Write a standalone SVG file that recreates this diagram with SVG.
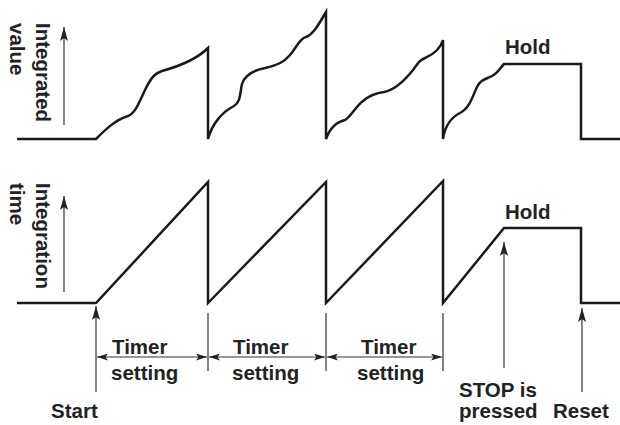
<svg xmlns="http://www.w3.org/2000/svg" width="620" height="425" viewBox="0 0 620 425">
<style>
.wave{fill:none;stroke:#1a1a1a;stroke-width:2.5;stroke-linejoin:miter;stroke-linecap:butt}
.thin{fill:none;stroke:#333;stroke-width:1.2}
.lbl{font-family:"Liberation Sans",Arial,sans-serif;font-weight:bold;font-size:20.5px;fill:#222}
</style>
<defs>
<marker id="ah" viewBox="0 0 14 8" refX="14" refY="4" markerWidth="14" markerHeight="8" markerUnits="userSpaceOnUse" orient="auto-start-reverse">
<path d="M0,0 L14,4 L0,8 L3,4 z" fill="#222"/>
</marker>
<marker id="ahs" viewBox="0 0 11 7" refX="11" refY="3.5" markerWidth="11" markerHeight="7" markerUnits="userSpaceOnUse" orient="auto-start-reverse">
<path d="M0,0 L11,3.5 L0,7 L2.5,3.5 z" fill="#222"/>
</marker>
</defs>
<rect width="620" height="425" fill="#fff"/>
<g id="connectors">
<path id="wave-value" class="wave" d="M17,139 L96,139 C105,130 115,120 128,116 C136,113 140,100 146,88 C152,76 156,73 162,71 C180,66 196,60 208,48 L208,139 C212,124 222,112 234,106 C241,102 240,92 242,84 C245,74 255,70 265,68 C278,65 284,62 290,55 C296,48 300,38 306,37 C314,34 320,22 326,12 L326,139 C330,128 336,122 345,120 C350,118 356,106 363,101 C370,95 376,93 384,92 C395,90 405,80 413,70 C418,63 420,60 425,58 C432,55 440,50 443,40 L443,139 C445,126 450,118 460,113 C470,108 473,95 477,87 C480,80 486,79 492,76 C498,73 500,68 504,64 L581,64 L581,139 L620,139"/>
<path id="wave-time" class="wave" d="M17,303 L96,303 L208,182 L208,303 L326,182 L326,303 L443,181 L443,303 L504,228 L581,228 L581,303 L620,303"/>
<line class="thin" x1="64" y1="125" x2="64" y2="27" marker-end="url(#ah)"/>
<line class="thin" x1="64" y1="292" x2="64" y2="196" marker-end="url(#ah)"/>
<line class="thin" x1="96" y1="392" x2="96" y2="306" marker-end="url(#ah)"/>
<line class="thin" x1="504" y1="368" x2="504" y2="242" marker-end="url(#ah)"/>
<line class="thin" x1="582" y1="392" x2="582" y2="308" marker-end="url(#ah)"/>
<line class="thin" x1="208" y1="313" x2="208" y2="371"/>
<line class="thin" x1="326" y1="313" x2="326" y2="371"/>
<line class="thin" x1="443" y1="313" x2="443" y2="371"/>
<line class="thin" x1="97" y1="357" x2="207" y2="357" marker-start="url(#ahs)" marker-end="url(#ahs)"/>
<line class="thin" x1="209" y1="357" x2="325" y2="357" marker-start="url(#ahs)" marker-end="url(#ahs)"/>
<line class="thin" x1="327" y1="357" x2="442" y2="357" marker-start="url(#ahs)" marker-end="url(#ahs)"/>
</g>
<g id="label-value"><text class="lbl" transform="translate(36,23) rotate(90)">Integrated</text><text class="lbl" transform="translate(10,23) rotate(90)">value</text></g>
<g id="label-time"><text class="lbl" transform="translate(36,183) rotate(90)">Integration</text><text class="lbl" transform="translate(10,183) rotate(90)">time</text></g>
<g id="hold-top"><text class="lbl" x="505" y="54">Hold</text></g>
<g id="hold-bottom"><text class="lbl" x="505" y="219">Hold</text></g>
<g id="timer1"><text class="lbl" x="112" y="354">Timer</text><text class="lbl" x="111" y="380">setting</text></g>
<g id="timer2"><text class="lbl" x="233" y="354">Timer</text><text class="lbl" x="232" y="380">setting</text></g>
<g id="timer3"><text class="lbl" x="361" y="354">Timer</text><text class="lbl" x="357" y="380">setting</text></g>
<g id="start"><text class="lbl" x="51" y="418">Start</text></g>
<g id="stop"><text class="lbl" x="459" y="397">STOP is</text><text class="lbl" x="459" y="418">pressed</text></g>
<g id="reset"><text class="lbl" x="553" y="418">Reset</text></g>
</svg>
